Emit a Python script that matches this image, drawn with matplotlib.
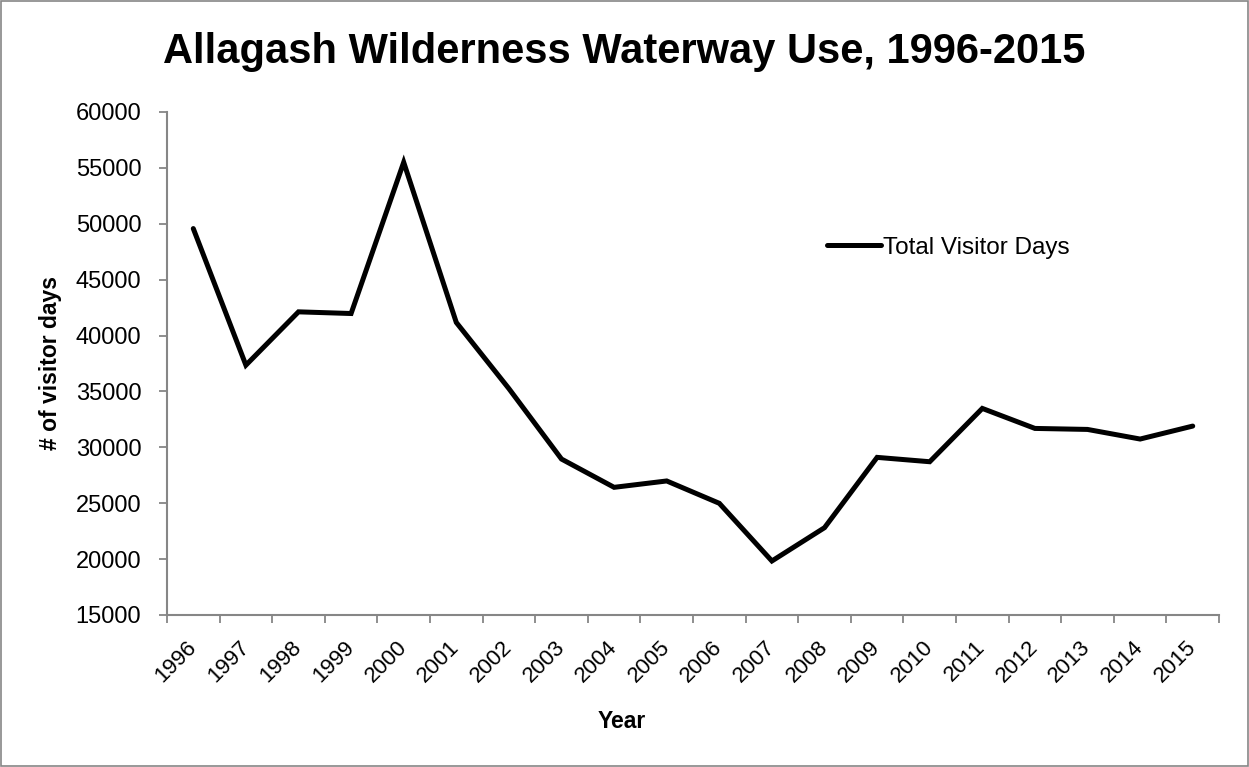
import numpy as np
import matplotlib.pyplot as plt
from matplotlib.ticker import FixedLocator, NullFormatter

years = ['1996', '1997', '1998', '1999', '2000', '2001', '2002', '2003', '2004', '2005',
         '2006', '2007', '2008', '2009', '2010', '2011', '2012', '2013', '2014', '2015']
visitor_days = [49570, 37350, 42120, 41970, 55500, 41170, 35250, 28950, 26420, 26990,
                24990, 19830, 22810, 29100, 28710, 33480, 31690, 31600, 30740, 31900]

plt.rcParams['font.family'] = ['Liberation Sans', 'DejaVu Sans']
axis_grey = '#868686'

fig = plt.figure(figsize=(12.49, 7.67), dpi=100)
ax = fig.add_axes([0.1337, 0.1982, 0.8423, 0.6558])

x = np.arange(len(years))
ax.plot(x, visitor_days, color='black', linewidth=3.6, solid_joinstyle='miter',
        solid_capstyle='round', label='Total Visitor Days')

ax.set_xlim(-0.5, len(years) - 0.5)
ax.set_ylim(15000, 60000)
ax.set_yticks(np.arange(15000, 60001, 5000))

# category labels at centres, tick marks between categories
ax.set_xticks(x)
ax.set_xticklabels(years, rotation=45, ha='right', va='center', rotation_mode='anchor',
                   fontsize=16)
ax.xaxis.set_minor_locator(FixedLocator(np.arange(-0.5, len(years), 1.0)))
ax.xaxis.set_minor_formatter(NullFormatter())
ax.tick_params(axis='x', which='major', length=0, pad=21)
ax.tick_params(axis='x', which='minor', length=5.5, color=axis_grey, width=1.3, direction='out')
ax.tick_params(axis='y', length=5.5, color=axis_grey, width=1.3, labelsize=17, pad=13)

for s in ['top', 'right']:
    ax.spines[s].set_visible(False)
for s in ['left', 'bottom']:
    ax.spines[s].set_color(axis_grey)
    ax.spines[s].set_linewidth(1.5)

ax.set_xlabel('Year', fontsize=16.5, fontweight='bold', va='top')
ax.xaxis.set_label_coords(0.4325, -0.189)
ax.set_ylabel('# of visitor days', fontsize=16.5, fontweight='bold')
ax.yaxis.set_label_coords(-0.1, 0.5)

fig.suptitle('Allagash Wilderness Waterway Use, 1996-2015', fontsize=30, fontweight='bold',
             x=0.5, y=0.958)

ax.legend(loc='center left', bbox_to_anchor=(0.627, 0.7296), frameon=False, fontsize=17.5,
          handlelength=2.22, handletextpad=0.12, borderpad=0, borderaxespad=0)

# chart area border
fig.patches.append(plt.Rectangle((0.001, 0.001), 0.998, 0.998, transform=fig.transFigure,
                                 fill=False, edgecolor=axis_grey, linewidth=1.2))

fig.savefig('out.png', dpi=100)
